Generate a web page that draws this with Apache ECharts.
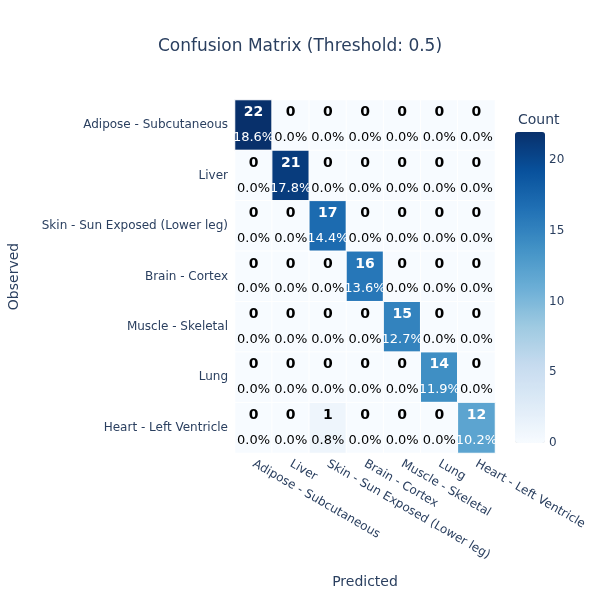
<!DOCTYPE html>
<html>
<head>
<meta charset="utf-8">
<script src="https://cdn.jsdelivr.net/npm/echarts@6/dist/echarts.min.js"></script>
<style>html,body{margin:0;padding:0;background:#fff}#c{width:600px;height:600px}</style>
</head>
<body>
<div id="c"></div>
<script>
const categories = ["Adipose - Subcutaneous","Liver","Skin - Sun Exposed (Lower leg)","Brain - Cortex","Muscle - Skeletal","Lung","Heart - Left Ventricle"];
// rows = observed, columns = predicted
const row0 = [22,0,0,0,0,0,0];
const row1 = [0,21,0,0,0,0,0];
const row2 = [0,0,17,0,0,0,0];
const row3 = [0,0,0,16,0,0,0];
const row4 = [0,0,0,0,15,0,0];
const row5 = [0,0,0,0,0,14,0];
const row6 = [0,0,1,0,0,0,12];
const matrix = [row0,row1,row2,row3,row4,row5,row6];
const colorTicks = [0,5,10,15,20];

const total = matrix.flat().reduce((a,b)=>a+b,0);
const data = [];
matrix.forEach((row, r) => row.forEach((v, c) => data.push([c, r, v])));

const FONT = "DejaVu Sans";
const TXT = "#2a3f5f";
const chart = echarts.init(document.getElementById('c'));
chart.setOption({
  backgroundColor: '#fff',
  textStyle: { fontFamily: FONT },
  title: [
    { text: 'Confusion Matrix (Threshold: 0.5)', left: 'center', top: 33,
      textStyle: { fontFamily: FONT, fontSize: 17, fontWeight: 'normal', color: TXT } },
    { text: 'Count', left: 513, top: 108,
      textStyle: { fontFamily: FONT, fontSize: 14, fontWeight: 'normal', color: TXT } }
  ],
  grid: [
    { left: 235, top: 100, width: 260, height: 353 },
    { left: 515, top: 132, width: 30, height: 311 }
  ],
  xAxis: [
    { type: 'category', data: categories, gridIndex: 0,
      name: 'Predicted', nameLocation: 'middle', nameGap: 122,
      nameTextStyle: { fontFamily: FONT, fontSize: 14, color: TXT },
      axisLine: { show: false }, axisTick: { show: false },
      splitLine: { show: false },
      axisLabel: { rotate: -30, fontSize: 12, color: TXT, margin: 10, interval: 0, fontFamily: FONT } },
    { type: 'value', gridIndex: 1, show: false }
  ],
  yAxis: [
    { type: 'category', data: categories, gridIndex: 0, inverse: true,
      name: 'Observed', nameLocation: 'middle', nameGap: 214,
      nameTextStyle: { fontFamily: FONT, fontSize: 14, color: TXT },
      axisLine: { show: false }, axisTick: { show: false },
      splitLine: { show: false },
      axisLabel: { fontSize: 12, color: TXT, margin: 7, interval: 0, fontFamily: FONT } },
    { type: 'value', gridIndex: 1, position: 'right', min: 0, max: 22, interval: 5,
      axisLine: { show: false }, axisTick: { show: false }, splitLine: { show: false },
      axisLabel: { fontSize: 12, color: TXT, margin: 4, showMaxLabel: false, fontFamily: FONT,
        formatter: v => colorTicks.includes(v) ? String(v) : '' } }
  ],
  visualMap: {
    type: 'continuous', min: 0, max: 22, seriesIndex: 0,
    left: 515, top: 132, itemWidth: 30, itemHeight: 311, padding: 0,
    calculable: false, text: null, showLabel: false,
    inRange: { color: ['rgb(247,251,255)','rgb(222,235,247)','rgb(198,219,239)','rgb(158,202,225)','rgb(107,174,214)','rgb(66,146,198)','rgb(33,113,181)','rgb(8,81,156)','rgb(8,48,107)'] }
  },
  series: [{
    type: 'heatmap', xAxisIndex: 0, yAxisIndex: 0, data: data,
    itemStyle: { borderColor: '#fff', borderWidth: 1 },
    label: {
      show: true,
      formatter: p => {
        const v = p.value[2];
        const pct = (v / total * 100).toFixed(1) + '%';
        const s = v > 8 ? 'w' : 'b';
        return '{c' + s + '|' + v + '}\n{p' + s + '|' + pct + '}';
      },
      rich: {
        cb: { fontFamily: FONT, fontSize: 14, fontWeight: 'bold', color: '#000', lineHeight: 25 },
        pb: { fontFamily: FONT, fontSize: 13, color: '#000', lineHeight: 25 },
        cw: { fontFamily: FONT, fontSize: 14, fontWeight: 'bold', color: '#fff', lineHeight: 25 },
        pw: { fontFamily: FONT, fontSize: 13, color: '#fff', lineHeight: 25 }
      }
    },
    emphasis: { disabled: true }
  }]
});
</script>
</body>
</html>
